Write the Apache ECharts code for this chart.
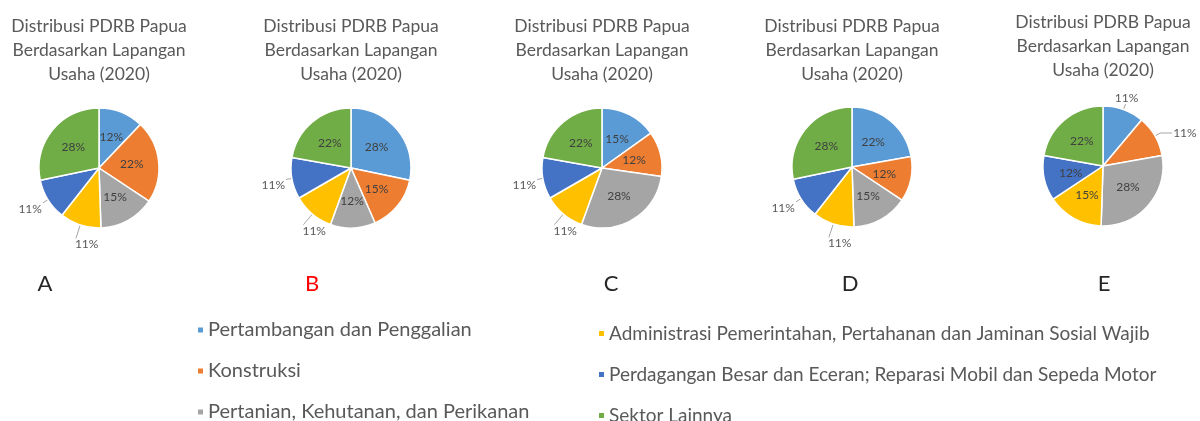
<!DOCTYPE html>
<html>
<head>
<meta charset="utf-8">
<script src="https://cdn.jsdelivr.net/npm/echarts@6/dist/echarts.min.js"></script>
<style>html,body{margin:0;padding:0;background:#fff;}#c{width:1200px;height:421px;}</style>
</head>
<body>
<div id="c"></div>
<script>
const categories = [
  'Pertambangan dan Penggalian',
  'Konstruksi',
  'Pertanian, Kehutanan, dan Perikanan',
  'Administrasi Pemerintahan, Pertahanan dan Jaminan Sosial Wajib',
  'Perdagangan Besar dan Eceran; Reparasi Mobil dan Sepeda Motor',
  'Sektor Lainnya'
];
const colors = ['#5B9BD5', '#ED7D31', '#A5A5A5', '#FFC000', '#4472C4', '#70AD47'];
const chartLetters = ['A', 'B', 'C', 'D', 'E'];
const valuesA = [12, 22, 15, 11, 11, 28];
const valuesB = [28, 15, 12, 11, 11, 22];
const valuesC = [15, 12, 28, 11, 11, 22];
const valuesD = [22, 12, 15, 11, 11, 28];
const valuesE = [11, 11, 28, 15, 12, 22];
const titleText = 'Distribusi PDRB Papua\nBerdasarkan Lapangan\nUsaha (2020)';

const allValues = [valuesA, valuesB, valuesC, valuesD, valuesE];
const centersX = [99, 351, 602, 852, 1103];
const centersY = [168, 168, 168, 167, 166];
const titleTops = [14, 14, 14, 14, 10];
const letterX = [45, 312, 611, 850, 1104];
const letterColors = ['#262626', '#FF0000', '#262626', '#262626', '#262626'];
const FONT = 'Lato';

// mid angle (degrees clockwise from 12 o'clock) of a slice
function midAngle(vals, k) {
  const total = vals.reduce((a, b) => a + b, 0);
  let before = 0;
  for (let j = 0; j < k; j++) before += vals[j];
  return (before + vals[k] / 2) / total * 360;
}

const titles = [];
const series = [];
allValues.forEach((vals, i) => {
  titles.push({
    text: titleText, left: centersX[i], top: titleTops[i], textAlign: 'center', padding: 0,
    textStyle: { fontFamily: FONT, fontSize: 17.5, fontWeight: 'normal', color: '#595959', lineHeight: 24 }
  });
  titles.push({
    text: chartLetters[i], left: letterX[i], top: 273, textAlign: 'center', padding: 0,
    textStyle: { fontFamily: FONT, fontSize: 22, fontWeight: 'normal', color: letterColors[i] }
  });
  series.push({
    type: 'pie',
    center: [centersX[i], centersY[i]],
    radius: 60,
    startAngle: 90,
    clockwise: true,
    avoidLabelOverlap: false,
    animation: false,
    itemStyle: { borderColor: '#fff', borderWidth: 1.5 },
    labelLayout: function (p) {
      const a = midAngle(allValues[p.seriesIndex], p.dataIndex);
      if (allValues[p.seriesIndex][p.dataIndex] > 11) return {};
      if (a < 45) return { align: 'center', verticalAlign: 'bottom' };
      if (a >= 150 && a < 230) return { align: 'left', verticalAlign: 'top' };
      if (a >= 230 && a < 270) return { align: 'right', verticalAlign: 'top' };
      return {};
    },
    data: vals.map((v, k) => {
      const outside = v <= 11;
      const a = midAngle(vals, k);
      const bottom = a >= 150 && a < 230;
      const right = a >= 45 && a < 135;
      return {
        name: categories[k],
        value: v,
        itemStyle: { color: colors[k] },
        label: outside
          ? { show: true, position: 'outside', formatter: '{c}%', fontFamily: FONT, fontSize: 12, color: '#595959', distanceToLabelLine: 1 }
          : { show: true, position: 'inside', formatter: '{c}%', fontFamily: FONT, fontSize: 12, color: '#404040' },
        labelLine: outside
          ? { show: true, length: bottom ? 14 : 6, length2: right ? 12 : 0, lineStyle: { color: '#A6A6A6', width: 1 } }
          : { show: false }
      };
    })
  });
});

const legendCommon = {
  orient: 'vertical', icon: 'rect', itemWidth: 7, itemHeight: 7,
  selectedMode: false, padding: 0, height: 130
};

const option = {
  backgroundColor: '#fff',
  color: colors,
  title: titles,
  legend: [
    Object.assign({}, legendCommon, { left: 196, top: 320, itemGap: 21, data: categories.slice(0, 3),
      textStyle: { fontFamily: FONT, fontSize: 20, color: '#595959', padding: [0, 0, 0, -1] } }),
    Object.assign({}, legendCommon, { left: 597, top: 324, itemGap: 22, data: categories.slice(3, 6),
      textStyle: { fontFamily: FONT, fontSize: 19, color: '#595959', padding: [0, 0, 0, -1] } })
  ],
  series: series
};

const chart = echarts.init(document.getElementById('c'), null, { renderer: 'canvas' });
chart.setOption(option);
</script>
</body>
</html>
